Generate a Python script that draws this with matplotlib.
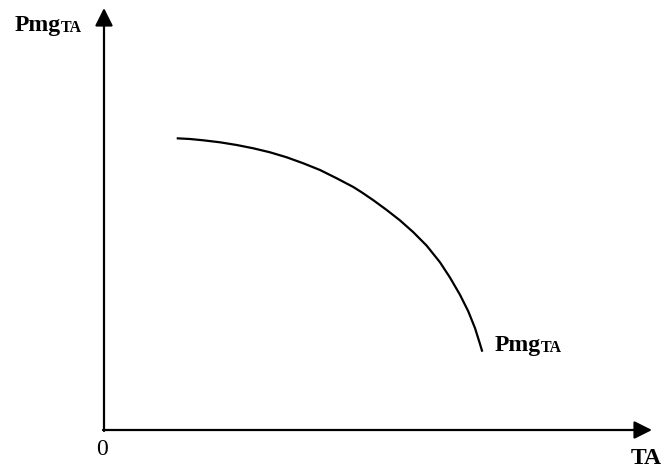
import matplotlib
matplotlib.use("Agg")
import matplotlib.pyplot as plt

plt.rcParams['font.family'] = ['Liberation Serif', 'DejaVu Serif']

# marginal product curve of TA (arbitrary units)
ta = [72.7, 86.0, 99.3, 116.0, 132.7, 149.3, 166.0, 182.7, 199.3, 216.0,
      232.7, 249.3, 258.0, 269.3, 282.7, 296.0, 309.3, 322.7, 336.0, 346.0,
      356.0, 364.3, 371.0, 376.0, 378.3]
pmg = [291.7, 291.0, 289.7, 287.7, 285.0, 281.7, 277.7, 272.7, 266.7, 260.0,
       251.7, 243.0, 237.5, 229.8, 220.0, 209.6, 197.8, 184.3, 167.7, 152.4,
       135.2, 118.6, 101.9, 86.0, 78.3]

x_max = 548
y_max = 422

fig = plt.figure(figsize=(6.69, 4.68), dpi=100)
ax = fig.add_axes([0, 0, 1, 1])
ax.set_xlim(-104, 565)
ax.set_ylim(-38, 430)
ax.axis("off")

arrow = dict(arrowstyle="-|>", mutation_scale=27, lw=1.6, color="black",
             shrinkA=0, shrinkB=0)
ax.annotate("", xy=(x_max, 0), xytext=(-1, 0), arrowprops=arrow)
ax.annotate("", xy=(0, y_max), xytext=(0, -1), arrowprops=arrow)

ax.plot(ta, pmg, color="black", lw=1.6, solid_capstyle="butt", solid_joinstyle="round")

main = dict(fontsize=17, fontweight="bold", ha="left", va="baseline")
sub = dict(fontsize=11.5, fontweight="bold", ha="left", va="baseline")

ax.text(-89, 399, "Pmg", **main)
ax.text(-43, 398, "TA", **sub)
ax.text(391, 79, "Pmg", **main)
ax.text(437, 78, "TA", **sub)
ax.text(527, -34, "TA", **main)
ax.text(-2.3, -25, "0", fontsize=17, ha="center", va="baseline")

fig.savefig("out.png", dpi=100)
